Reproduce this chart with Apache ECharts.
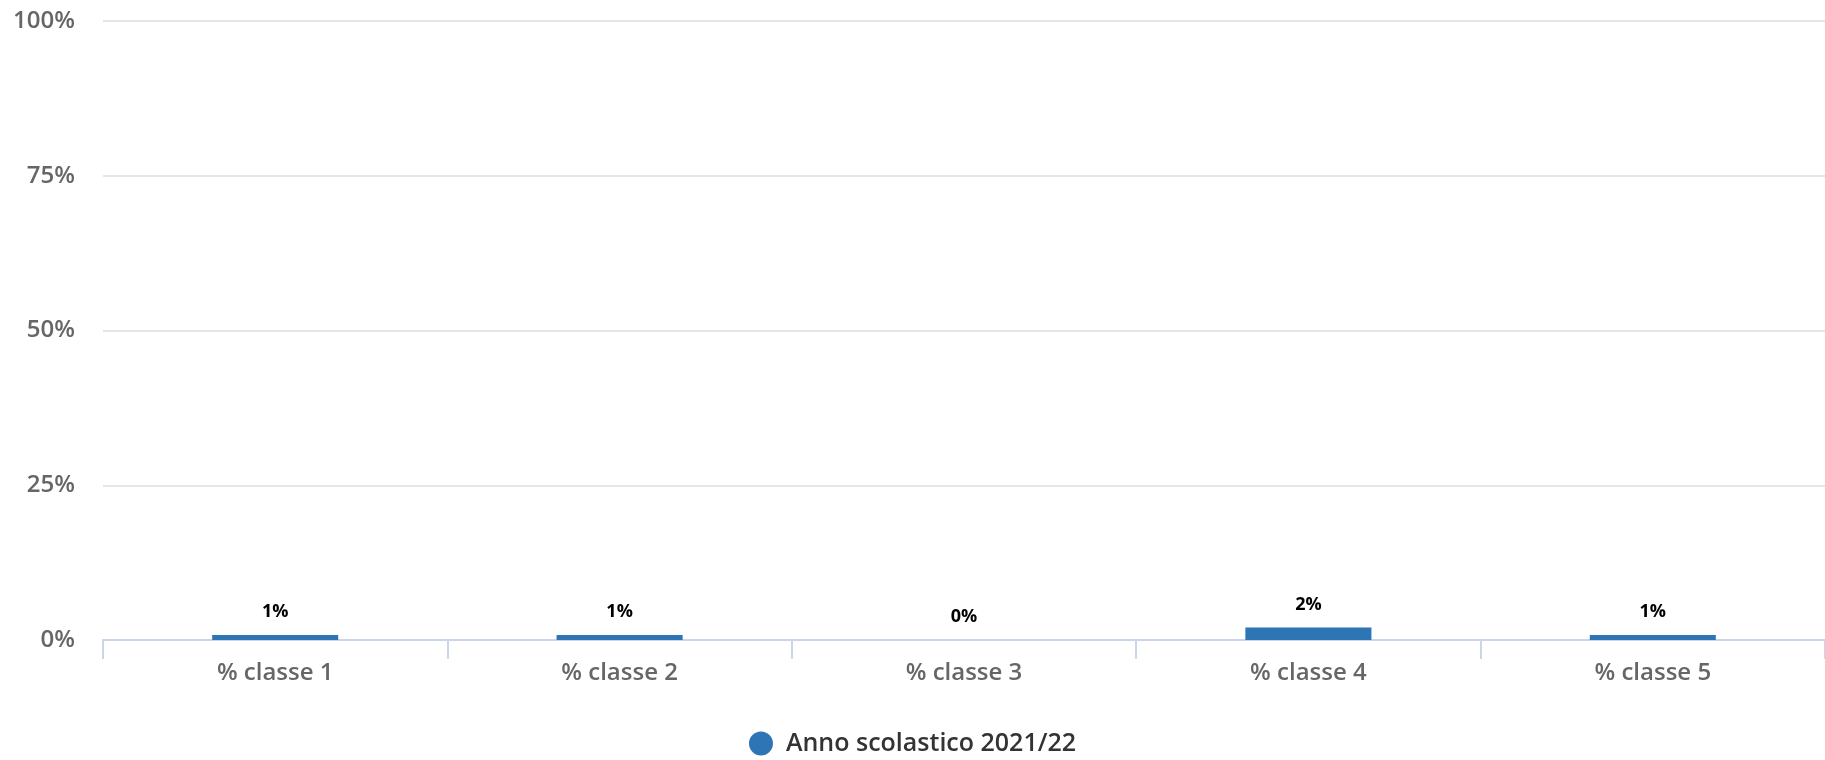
<!DOCTYPE html>
<html>
<head>
<meta charset="utf-8">
<script src="https://cdn.jsdelivr.net/npm/echarts@6/dist/echarts.min.js"></script>
<style>
  html, body { margin: 0; padding: 0; background: #fff; }
  #chart { width: 1825px; height: 760px; }
</style>
</head>
<body>
<div id="chart"></div>
<script>
var categories = ["% classe 1", "% classe 2", "% classe 3", "% classe 4", "% classe 5"];
var values = [0.8, 0.8, 0, 2, 0.8];
var seriesName = "Anno scolastico 2021/22";
var yTicks = [0, 25, 50, 75, 100];

var myChart = echarts.init(document.getElementById("chart"));
var font = "Open Sans";
var option = {
  animation: false,
  grid: {
    left: 103,
    right: 0,
    top: 21,
    bottom: 120,
    containLabel: false
  },
  legend: {
    top: 726,
    left: "center",
    icon: "circle",
    itemWidth: 24,
    itemHeight: 24,
    textStyle: {
      color: "#333333",
      fontSize: 25,
      fontWeight: 600,
      fontFamily: font,
      padding: [0, 0, 0, 8]
    },
    data: [seriesName]
  },
  xAxis: {
    type: "category",
    data: categories,
    boundaryGap: true,
    axisLine: {
      lineStyle: { color: "#ccd6eb", width: 2 }
    },
    axisTick: {
      show: true,
      length: 19,
      lineStyle: { color: "#ccd6eb", width: 2 }
    },
    axisLabel: {
      margin: 21,
      color: "#666666",
      fontSize: 24,
      fontWeight: 600,
      fontFamily: font
    }
  },
  yAxis: {
    type: "value",
    min: yTicks[0],
    max: yTicks[yTicks.length - 1],
    interval: 25,
    axisLine: { show: false },
    axisTick: { show: false },
    axisLabel: {
      margin: 28,
      color: "#666666",
      fontSize: 24,
      fontWeight: 600,
      fontFamily: font,
      formatter: "{value}%"
    },
    splitLine: {
      lineStyle: { color: "#e6e6e6", width: 2 }
    }
  },
  series: [
    {
      name: seriesName,
      type: "bar",
      data: values,
      barWidth: "36.6%",
      itemStyle: { color: "#2e75b6" },
      label: {
        show: true,
        position: "top",
        distance: 14,
        color: "#000000",
        fontSize: 18,
        fontWeight: "bold",
        fontFamily: font,
        formatter: function (p) {
          return Math.round(p.value) + "%";
        }
      }
    }
  ]
};
myChart.setOption(option);
</script>
</body>
</html>
